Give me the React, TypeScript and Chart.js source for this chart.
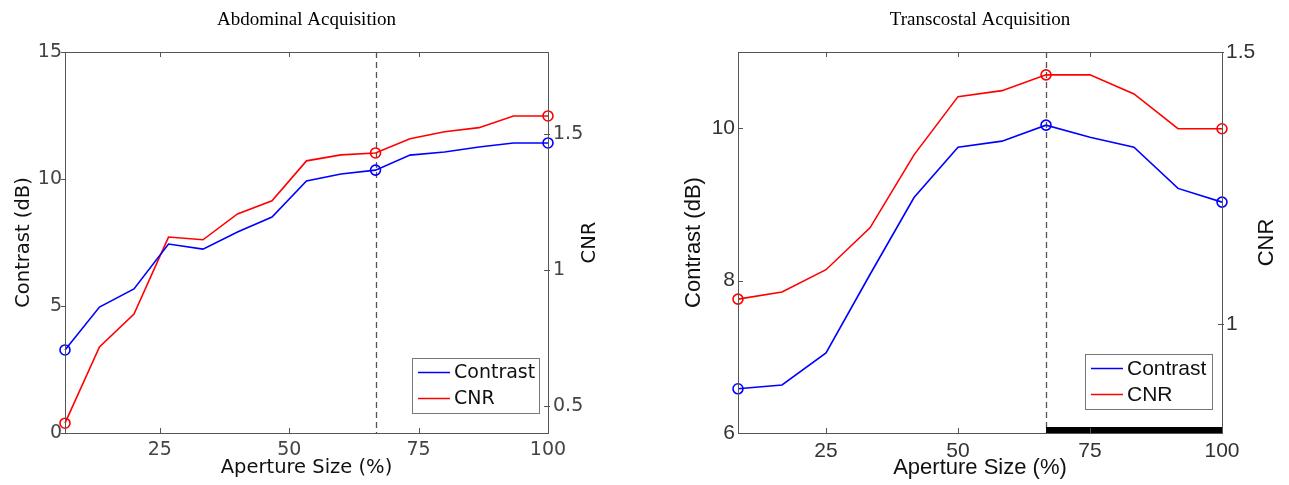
import React, { useEffect, useRef } from 'react';
import { Chart, registerables } from 'chart.js';

Chart.register(...registerables);

// ---------- data ----------
const seriesNames = ['Contrast', 'CNR'];
const xTicks = [25, 50, 75, 100];

const abdTitle = 'Abdominal Acquisition';
const abdApertures = [6.67, 13.33, 20, 26.67, 33.33, 40, 46.67, 53.33, 60, 66.67, 73.33, 80, 86.67, 93.33, 100];
const abdContrast = [3.27, 4.96, 5.67, 7.44, 7.24, 7.91, 8.5, 9.92, 10.2, 10.35, 10.94, 11.06, 11.26, 11.42, 11.42];
const abdCNR = [0.436, 0.716, 0.837, 1.12, 1.11, 1.205, 1.253, 1.4, 1.422, 1.429, 1.481, 1.507, 1.522, 1.565, 1.565];
const abdMarkerIdx = [0, 9, 14];
const abdContrastTicks = [0, 5, 10, 15];
const abdCnrTicks = [0.5, 1, 1.5];
const abdContrastRange = [0, 15];
const abdCnrRange = [0.4, 1.8];

const transTitle = 'Transcostal Acquisition';
const transApertures = [8.33, 16.67, 25, 33.33, 41.67, 50, 58.33, 66.67, 75, 83.33, 91.67, 100];
const transContrast = [6.58, 6.63, 7.05, 8.08, 9.09, 9.75, 9.83, 10.04, 9.88, 9.75, 9.21, 9.03];
const transCNR = [1.046, 1.059, 1.1, 1.177, 1.311, 1.418, 1.429, 1.458, 1.458, 1.423, 1.359, 1.359];
const transMarkerIdx = [0, 7, 11];
const transContrastTicks = [6, 8, 10];
const transCnrTicks = [1, 1.5];
const transContrastRange = [6, 11];
const transCnrRange = [0.8, 1.5];
const transHighlight = [66.67, 100];

const selectedAperture = 66.67;
const xAxisTitle = 'Aperture Size (%)';
const yLeftTitle = 'Contrast (dB)';
const yRightTitle = 'CNR';

// ---------- styles ----------
type Style = {
  family: string;
  tickSize: number;
  textSize: number;
  legendSize: number;
  tickColor: string;
  leftW: number;
  rightW: number;
  leftPad: number;
  rightPad: number;
  yTitleLeftX: number;
  yTitleRightX: number;
  xTitleY: number;
  legendRight: number;
  legendBottom: number;
  leftTicksOut: boolean;
};

const abdStyle: Style = {
  family: '"DejaVu Sans", sans-serif',
  tickSize: 19,
  textSize: 19.5,
  legendSize: 19,
  tickColor: '#444',
  leftW: 65,
  rightW: 97,
  leftPad: 3,
  rightPad: 5,
  yTitleLeftX: 24,
  yTitleRightX: 590,
  xTitleY: 468,
  legendRight: 9,
  legendBottom: 20,
  leftTicksOut: true,
};

const transStyle: Style = {
  family: '"Liberation Sans", Arial, sans-serif',
  tickSize: 21,
  textSize: 22,
  legendSize: 21,
  tickColor: '#333',
  leftW: 93,
  rightW: 67,
  leftPad: 3,
  rightPad: 4,
  yTitleLeftX: 49,
  yTitleRightX: 622,
  xTitleY: 468,
  legendRight: 10,
  legendBottom: 24,
  leftTicksOut: false,
};

const BLUE = '#0000ff';
const RED = '#ff0000';
const AXIS = '#555';

type ChartSpec = {
  title: string;
  apertures: number[];
  contrast: number[];
  cnr: number[];
  markers: number[];
  contrastTicks: number[];
  cnrTicks: number[];
  contrastRange: number[];
  cnrRange: number[];
  highlight?: number[];
  style: Style;
};

function decorPlugin(spec: ChartSpec) {
  const st = spec.style;
  return {
    id: 'decor',
    beforeDatasetsDraw(chart: any) {
      const { ctx, chartArea: ca, scales } = chart;
      const xs = scales.x;
      ctx.save();
      const px = Math.round(xs.getPixelForValue(selectedAperture)) + 0.5;
      ctx.strokeStyle = AXIS;
      ctx.lineWidth = 1.3;
      ctx.setLineDash([6, 4]);
      ctx.beginPath();
      ctx.moveTo(px, ca.top);
      ctx.lineTo(px, ca.bottom);
      ctx.stroke();
      ctx.setLineDash([]);
      ctx.restore();
    },
    afterDraw(chart: any) {
      const { ctx, chartArea: ca, scales } = chart;
      const xs = scales.x;
      const ys = scales.y;
      const y2 = scales.y2;
      ctx.save();
      if (spec.highlight) {
        const a = xs.getPixelForValue(spec.highlight[0]);
        const b = xs.getPixelForValue(spec.highlight[1]);
        ctx.fillStyle = '#000';
        ctx.fillRect(a, ca.bottom - 6, b - a, 6);
      }
      ctx.strokeStyle = AXIS;
      ctx.lineWidth = 1;
      ctx.strokeRect(Math.round(ca.left) + 0.5, Math.round(ca.top) + 0.5, Math.round(ca.right - ca.left), Math.round(ca.bottom - ca.top));
      ctx.beginPath();
      for (const t of xTicks) {
        const p = Math.round(xs.getPixelForValue(t)) + 0.5;
        ctx.moveTo(p, ca.bottom);
        ctx.lineTo(p, ca.bottom - 5);
        ctx.moveTo(p, ca.top);
        ctx.lineTo(p, ca.top + 5);
      }
      for (const t of spec.contrastTicks) {
        const p = Math.round(ys.getPixelForValue(t)) + 0.5;
        if (st.leftTicksOut) {
          ctx.moveTo(ca.left - 4, p);
          ctx.lineTo(ca.left, p);
        } else {
          ctx.moveTo(ca.left, p);
          ctx.lineTo(ca.left + 5, p);
        }
      }
      for (const t of spec.cnrTicks) {
        const p = Math.round(y2.getPixelForValue(t)) + 0.5;
        ctx.moveTo(ca.right - 4, p);
        ctx.lineTo(ca.right + 2, p);
      }
      ctx.stroke();

      const cx = (ca.left + ca.right) / 2;
      const cy = (ca.top + ca.bottom) / 2;
      ctx.fillStyle = '#000';
      ctx.textAlign = 'center';
      ctx.textBaseline = 'middle';
      ctx.font = '19px "Liberation Serif", "Times New Roman", serif';
      ctx.fillText(spec.title, cx, 20);

      ctx.font = `${st.textSize}px ${st.family}`;
      ctx.fillStyle = '#111';
      ctx.fillText(xAxisTitle, cx, st.xTitleY);
      ctx.save();
      ctx.translate(st.yTitleLeftX, cy);
      ctx.rotate(-Math.PI / 2);
      ctx.fillText(yLeftTitle, 0, 0);
      ctx.restore();
      ctx.save();
      ctx.translate(st.yTitleRightX, cy);
      ctx.rotate(-Math.PI / 2);
      ctx.fillText(yRightTitle, 0, 0);
      ctx.restore();

      const w = 127;
      const h = 55;
      const right = ca.right - st.legendRight;
      const bottom = ca.bottom - st.legendBottom;
      const left = right - w;
      const top = bottom - h;
      ctx.fillStyle = '#fff';
      ctx.fillRect(left, top, w, h);
      ctx.strokeStyle = '#777';
      ctx.lineWidth = 1;
      ctx.strokeRect(Math.round(left) + 0.5, Math.round(top) + 0.5, w, h);
      ctx.font = `${st.legendSize}px ${st.family}`;
      ctx.textAlign = 'left';
      ctx.textBaseline = 'middle';
      chart.data.datasets.forEach((ds: any, i: number) => {
        const ly = top + 14.5 + i * 26;
        ctx.strokeStyle = ds.borderColor;
        ctx.lineWidth = 1.5;
        ctx.beginPath();
        ctx.moveTo(left + 6, ly);
        ctx.lineTo(left + 38, ly);
        ctx.stroke();
        ctx.fillStyle = '#111';
        ctx.fillText(ds.label, left + 42, ly + 1);
      });
      ctx.restore();
    },
  };
}

function buildChart(canvas: HTMLCanvasElement, spec: ChartSpec) {
  const st = spec.style;
  const tickFont = { family: st.family, size: st.tickSize };
  const radii = spec.apertures.map((_, i) => (spec.markers.includes(i) ? 5 : 0));
  const mkDs = (label: string, values: number[], color: string, axis: string) => ({
    label,
    data: spec.apertures.map((a, i) => ({ x: a, y: values[i] })),
    yAxisID: axis,
    borderColor: color,
    borderWidth: 1.6,
    pointRadius: radii,
    pointHoverRadius: radii,
    pointBorderWidth: 1.6,
    pointBorderColor: color,
    pointBackgroundColor: 'rgba(0,0,0,0)',
    tension: 0,
    clip: false,
  });
  const fixedTicks = (vals: number[]) => (scale: any) => {
    scale.ticks = vals.map((v) => ({ value: v }));
  };
  return new Chart(canvas, {
    type: 'line',
    data: {
      datasets: [
        mkDs(seriesNames[0], spec.contrast, BLUE, 'y'),
        mkDs(seriesNames[1], spec.cnr, RED, 'y2'),
      ],
    },
    plugins: [decorPlugin(spec)],
    options: {
      responsive: false,
      animation: false,
      devicePixelRatio: 1,
      layout: { padding: { top: 52, left: 0, right: 0, bottom: 0 } },
      plugins: { legend: { display: false }, tooltip: { enabled: false }, title: { display: false } },
      events: [],
      scales: {
        x: {
          type: 'linear',
          min: spec.apertures[0],
          max: spec.apertures[spec.apertures.length - 1],
          afterBuildTicks: fixedTicks(xTicks),
          afterFit: (s: any) => {
            s.height = 52;
          },
          grid: { display: false, drawTicks: false },
          border: { display: false },
          ticks: {
            font: tickFont,
            color: st.tickColor,
            padding: 6,
            maxRotation: 0,
            minRotation: 0,
            autoSkip: false,
            callback: (v: any) => String(v),
          },
        },
        y: {
          type: 'linear',
          position: 'left',
          min: spec.contrastRange[0],
          max: spec.contrastRange[1],
          afterBuildTicks: fixedTicks(spec.contrastTicks),
          afterFit: (s: any) => {
            s.width = st.leftW;
          },
          grid: { display: false, drawTicks: false },
          border: { display: false },
          ticks: { font: tickFont, color: st.tickColor, padding: st.leftPad, callback: (v: any) => String(v) },
        },
        y2: {
          type: 'linear',
          position: 'right',
          min: spec.cnrRange[0],
          max: spec.cnrRange[1],
          afterBuildTicks: fixedTicks(spec.cnrTicks),
          afterFit: (s: any) => {
            s.width = st.rightW;
          },
          grid: { display: false, drawTicks: false },
          border: { display: false },
          ticks: { font: tickFont, color: st.tickColor, padding: st.rightPad, callback: (v: any) => String(v) },
        },
      },
    } as any,
  });
}

const abdSpec: ChartSpec = {
  title: abdTitle,
  apertures: abdApertures,
  contrast: abdContrast,
  cnr: abdCNR,
  markers: abdMarkerIdx,
  contrastTicks: abdContrastTicks,
  cnrTicks: abdCnrTicks,
  contrastRange: abdContrastRange,
  cnrRange: abdCnrRange,
  style: abdStyle,
};

const transSpec: ChartSpec = {
  title: transTitle,
  apertures: transApertures,
  contrast: transContrast,
  cnr: transCNR,
  markers: transMarkerIdx,
  contrastTicks: transContrastTicks,
  cnrTicks: transCnrTicks,
  contrastRange: transContrastRange,
  cnrRange: transCnrRange,
  highlight: transHighlight,
  style: transStyle,
};

export default function App() {
  const leftRef = useRef<HTMLCanvasElement>(null);
  const rightRef = useRef<HTMLCanvasElement>(null);

  useEffect(() => {
    document.body.style.margin = '0';
    document.body.style.overflow = 'hidden';
    const c1 = buildChart(leftRef.current as HTMLCanvasElement, abdSpec);
    const c2 = buildChart(rightRef.current as HTMLCanvasElement, transSpec);
    return () => {
      c1.destroy();
      c2.destroy();
    };
  }, []);

  return (
    <div style={{ position: 'relative', width: 1289, height: 485, background: '#fff' }}>
      <canvas ref={leftRef} width={645} height={485} style={{ position: 'absolute', left: 0, top: 0, display: 'block' }} />
      <canvas ref={rightRef} width={644} height={485} style={{ position: 'absolute', left: 645, top: 0, display: 'block' }} />
    </div>
  );
}
